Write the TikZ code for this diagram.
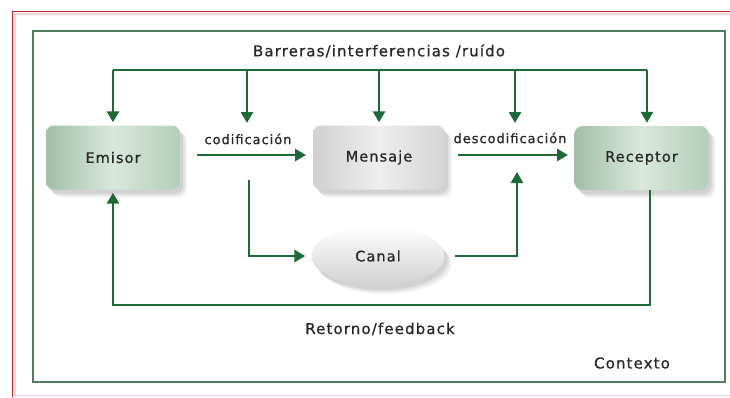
\documentclass[tikz,border=0pt]{standalone}
\usepackage{fontspec}
\setmainfont{DejaVu Sans}[LetterSpace=7.5,FakeBold=0.6]
\usetikzlibrary{shadows,arrows.meta,shapes.geometric}
\definecolor{framec}{HTML}{4F7E5F}
\definecolor{arr}{HTML}{1D6A36}
\definecolor{redb}{HTML}{C8202A}
\definecolor{pinkb}{HTML}{F6D6D8}
\definecolor{txt}{HTML}{262626}
\definecolor{gL}{HTML}{A0BFA8}
\definecolor{gM}{HTML}{D8E8DB}
\definecolor{gR}{HTML}{B2CFB9}
\definecolor{sL}{HTML}{D0D0D0}
\definecolor{sM}{HTML}{EEEEEE}
\definecolor{sR}{HTML}{D4D4D4}
\definecolor{shd}{HTML}{8A8A8A}
\tikzset{
  txtbig/.style={text=txt, font=\fontsize{15}{18}\selectfont, inner sep=0pt},
  txtlab/.style={text=txt, font=\fontsize{13}{16}\selectfont, inner sep=0pt},
  txtnode/.style={text=txt, font=\fontsize{14.5}{17}\selectfont},
  softshadow/.style={
    general shadow={shadow xshift=3pt, shadow yshift=-4pt, fill=shd, opacity=0.18},
    general shadow={shadow xshift=5pt, shadow yshift=-6pt, fill=shd, opacity=0.15},
    general shadow={shadow xshift=7pt, shadow yshift=-8pt, fill=shd, opacity=0.10}},
  gbox/.style={txtnode, rectangle, rounded corners=8pt, minimum width=134pt,
    minimum height=64pt, left color=gL, right color=gR, middle color=gM, softshadow},
  sbox/.style={txtnode, rectangle, rounded corners=8pt, minimum width=132pt,
    minimum height=64pt, left color=sL, right color=sR, middle color=sM, softshadow},
  sell/.style={txtnode, ellipse, minimum width=133pt, minimum height=60pt, inner sep=0pt,
    top color=white, bottom color=sL, softshadow},
  wire/.style={draw=arr, line width=2.6pt},
  conn/.style={draw=arr, line width=2.6pt, -{Triangle[length=11pt,width=12pt]}},
}
\begin{document}
\begin{tikzpicture}[x=1pt,y=-1pt]
\useasboundingbox (0,0) rectangle (730,397);
\fill[white] (0,0) rectangle (730,397);
% outer red border
\draw[pinkb, line width=2pt] (15,397) -- (15,14) -- (730,14);
\draw[pinkb, line width=1pt] (12,395) -- (730,395);
\draw[redb, line width=1.5pt] (12.5,397) -- (12.5,11.5) -- (730,11.5);
% context frame
\draw[framec, line width=2.2pt] (33,31) rectangle (725,382);

% nodes
\node[gbox] (em) at (113,157.5) {Emisor};
\node[sbox] (me) at (379,157.5) {Mensaje};
\node[gbox] (re) at (641.5,158) {Receptor};
\node[sell] (ca) at (378,256) {Canal};

\node[txtbig] (bar) at (379,51) {Barreras/interferencias /ruído};
\node[txtlab] (cod) at (248,139) {codificación};
\node[txtlab] (des) at (510,138) {descodificación};
\node[txtbig] (ret) at (380,329) {Retorno/feedback};
\node[txtbig] (ctx) at (632,363) {Contexto};

% coordinates
\coordinate (t1) at (113,70);
\coordinate (t2) at (247,70);
\coordinate (t3) at (379,70);
\coordinate (t4) at (515,70);
\coordinate (t5) at (647,70);
\coordinate (d2) at (247,123);
\coordinate (d4) at (515,123);
\coordinate (c1) at (197,155);
\coordinate (c2) at (306,155);
\coordinate (e1) at (458,155);
\coordinate (e2) at (568,155);
\coordinate (b1) at (249,180);
\coordinate (u0) at (455,256);
\coordinate (u1) at (517,172);
\coordinate (f0) at (650,190);
\coordinate (f1) at (650,305);

% barrier lines
\draw[wire] (t1) -- (t5);
\draw[conn, shorten >=3pt] (t1) -- (em.north);
\draw[conn] (t2) -- (d2);
\draw[conn, shorten >=3pt] (t3) -- (t3 |- me.north);
\draw[conn] (t4) -- (d4);
\draw[conn, shorten >=3pt] (t5) -- (t5 |- re.north);

% main flow
\draw[conn] (c1) -- (c2);
\draw[conn] (e1) -- (e2);
\draw[conn, shorten >=6pt] (b1) |- (ca.west);
\draw[conn] (u0) -| (u1);

% feedback
\draw[conn, shorten >=3pt] (f0) -- (f1) -| (em.south);
\end{tikzpicture}
\end{document}
